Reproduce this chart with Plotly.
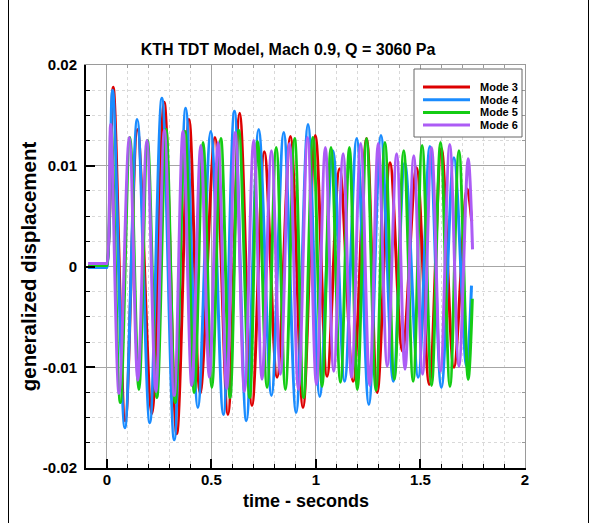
import plotly.graph_objects as go

# Generalized displacement time histories: turning points of each mode (time s, value)
mode3_t = [-0.09, -0.004, 0.0, 0.030, 0.088, 0.146, 0.215, 0.274, 0.334, 0.393, 0.446, 0.517, 0.579,
           0.635, 0.694, 0.753, 0.814, 0.878, 0.938, 0.997, 1.053, 1.113, 1.178, 1.242, 1.293,
           1.354, 1.414, 1.481, 1.542, 1.600, 1.660, 1.723, 1.745]
mode3_v = [0.0001, 0.0001, 0.0001, 0.0178, -0.0153, 0.0136, -0.0146, 0.0163, -0.0166, 0.0146, -0.0126,
           0.0128, -0.0147, 0.0152, -0.0138, 0.0114, -0.0110, 0.0129, -0.0140, 0.0130, -0.0109,
           0.0097, -0.0114, 0.0127, -0.0125, 0.0103, -0.0084, 0.0098, -0.0117, 0.0117, -0.0100,
           0.0077, 0.0045]

mode4_t = [-0.09, -0.004, 0.0, 0.027, 0.086, 0.145, 0.205, 0.263, 0.322, 0.377, 0.435, 0.497, 0.557,
           0.610, 0.667, 0.726, 0.787, 0.846, 0.905, 0.962, 1.018, 1.081, 1.137, 1.195, 1.253,
           1.311, 1.370, 1.425, 1.489, 1.545, 1.600, 1.660, 1.720, 1.744]
mode4_v = [-0.0001, -0.0001, -0.0001, 0.0175, -0.0160, 0.0146, -0.0155, 0.0167, -0.0172, 0.0157, -0.0140,
           0.0134, -0.0147, 0.0154, -0.0153, 0.0136, -0.0128, 0.0133, -0.0145, 0.0141, -0.0129,
           0.0115, -0.0114, 0.0127, -0.0137, 0.0130, -0.0114, 0.0103, -0.0110, 0.0119, -0.0120,
           0.0108, -0.0099, -0.0019]

mode5_t = [-0.09, -0.004, 0.0, 0.020, 0.064, 0.110, 0.153, 0.194, 0.239, 0.283, 0.327, 0.374, 0.418,
           0.460, 0.502, 0.545, 0.589, 0.631, 0.683, 0.721, 0.766, 0.810, 0.854, 0.898, 0.941,
           0.986, 1.029, 1.072, 1.117, 1.160, 1.198, 1.242, 1.287, 1.330, 1.375, 1.420, 1.465,
           1.508, 1.553, 1.596, 1.641, 1.684, 1.728, 1.748]
mode5_v = [0.0001, 0.0001, 0.0001, 0.0138, -0.0135, 0.0128, -0.0122, 0.0125, -0.0130, 0.0136, -0.0135,
           0.0134, -0.0125, 0.0123, -0.0120, 0.0127, -0.0130, 0.0135, -0.0130, 0.0124, -0.0120,
           0.0118, -0.0122, 0.0127, -0.0130, 0.0128, -0.0119, 0.0118, -0.0115, 0.0118, -0.0122,
           0.0127, -0.0123, 0.0123, -0.0112, 0.0115, -0.0114, 0.0120, -0.0118, 0.0123, -0.0119,
           0.0115, -0.0112, -0.0032]

mode6_t = [-0.09, -0.004, 0.0, 0.018, 0.058, 0.107, 0.148, 0.191, 0.234, 0.275, 0.322, 0.364, 0.406,
           0.449, 0.490, 0.532, 0.573, 0.614, 0.658, 0.702, 0.742, 0.787, 0.830, 0.873, 0.916,
           0.960, 1.002, 1.045, 1.085, 1.130, 1.170, 1.214, 1.257, 1.298, 1.341, 1.386, 1.426,
           1.468, 1.510, 1.553, 1.596, 1.640, 1.684, 1.728, 1.749]
mode6_v = [0.0003, 0.0003, 0.0003, 0.0141, -0.0126, 0.0128, -0.0113, 0.0125, -0.0124, 0.0135, -0.0128,
           0.0134, -0.0118, 0.0120, -0.0110, 0.0123, -0.0121, 0.0133, -0.0124, 0.0125, -0.0112,
           0.0115, -0.0107, 0.0122, -0.0122, 0.0128, -0.0117, 0.0118, -0.0104, 0.0112, -0.0110,
           0.0122, -0.0118, 0.0122, -0.0099, 0.0112, -0.0102, 0.0110, -0.0107, 0.0118, -0.0104,
           0.0121, -0.0099, 0.0107, 0.0017]

series_names = ["Mode 3", "Mode 4", "Mode 5", "Mode 6"]
series_colors = ["#dd0000", "#1a8cff", "#14cc14", "#ac5cf5"]

x_tick_vals = [0, 0.5, 1, 1.5, 2]
x_tick_text = ["0", "0.5", "1", "1.5", "2"]
y_tick_vals = [-0.02, -0.01, 0, 0.01, 0.02]
y_tick_text = ["-0.02", "-0.01", "0", "0.01", "0.02"]

W, H = 596, 523
PL, PR, PT, PB = 86, 525, 65, 468   # plot area edges in pixels

FONT = "Liberation Sans, Arial, Helvetica, sans-serif"


def fx(px):
    return (px - PL) / (PR - PL)


def fy(py):
    return (PB - py) / (PB - PT)


fig = go.Figure()
series = [(mode3_t, mode3_v), (mode4_t, mode4_v), (mode5_t, mode5_v), (mode6_t, mode6_v)]
for (t, v), name, color in zip(series, series_names, series_colors):
    fig.add_trace(go.Scatter(
        x=t, y=v, mode="lines", name=name, showlegend=False,
        line=dict(color=color, width=3, shape="spline", smoothing=1.0),
        hoverinfo="x+y+name",
    ))

axis_common = dict(
    showline=True, linecolor="black", linewidth=2, mirror=False,
    ticks="inside", tickcolor="black", tickwidth=2, ticklen=9,
    showgrid=True, gridcolor="#a6a6a6", gridwidth=1, zeroline=False,
    tickfont=dict(family=FONT, size=15, color="black", weight="bold"),
)

fig.update_layout(
    width=W, height=H,
    margin=dict(l=PL, r=W - PR, t=PT, b=H - PB, pad=0),
    paper_bgcolor="white", plot_bgcolor="white",
    title=dict(text="KTH TDT Model, Mach 0.9, Q = 3060 Pa",
               x=fx(288), xref="paper", xanchor="center",
               y=1 - 49 / H, yref="container", yanchor="middle",
               font=dict(family=FONT, size=16, color="black", weight="bold")),
    xaxis=dict(
        range=[-0.1, 2], tickvals=x_tick_vals, ticktext=x_tick_text,
        minor=dict(dtick=0.1, tick0=0, ticks="inside", ticklen=4, tickcolor="black",
                   tickwidth=1, showgrid=True, gridcolor="#d9d9d9", griddash="dot", gridwidth=1),
        ticklabelstandoff=-3,
        **axis_common,
    ),
    yaxis=dict(
        range=[-0.02, 0.02], tickvals=y_tick_vals, ticktext=y_tick_text,
        minor=dict(dtick=0.0025, tick0=0, ticks="inside", ticklen=4, tickcolor="black",
                   tickwidth=1, showgrid=True, gridcolor="#d9d9d9", griddash="dot", gridwidth=1),
        title=dict(text="generalized displacement", standoff=1,
                   font=dict(family=FONT, size=20.5, color="black", weight="bold")),
        ticklabelstandoff=4,
        **axis_common,
    ),
    xaxis2=dict(
        overlaying="x", side="top", matches="x", range=[-0.1, 2],
        showline=True, linecolor="#9a9a9a", linewidth=1,
        ticks="inside", tickcolor="#9a9a9a", ticklen=5, tickvals=x_tick_vals,
        minor=dict(dtick=0.1, tick0=0, ticks="inside", ticklen=3, tickcolor="#9a9a9a"),
        showticklabels=False, showgrid=False, zeroline=False,
    ),
    yaxis2=dict(
        overlaying="y", side="right", matches="y", range=[-0.02, 0.02],
        showline=True, linecolor="#9a9a9a", linewidth=1,
        ticks="inside", tickcolor="#9a9a9a", ticklen=5, tickvals=y_tick_vals,
        minor=dict(dtick=0.0025, tick0=0, ticks="inside", ticklen=3, tickcolor="#9a9a9a"),
        showticklabels=False, showgrid=False, zeroline=False,
    ),
)

# anchor trace for the mirrored frame axes
fig.add_trace(go.Scatter(x=[None], y=[None], xaxis="x2", yaxis="y2",
                         showlegend=False, hoverinfo="skip"))

annotations = [
    # horizontal axis title
    dict(text="time - seconds", xref="paper", yref="paper",
         x=fx(306), y=fy(501), xanchor="center", yanchor="middle", showarrow=False,
         font=dict(family=FONT, size=18, color="black", weight="bold")),
]

# key box with line samples
shapes = [
    dict(type="rect", xref="paper", yref="paper",
         x0=fx(414), x1=fx(522), y0=fy(137), y1=fy(69),
         line=dict(color="#666666", width=1), fillcolor="white", layer="above"),
]
row_y = [87, 99.7, 112.4, 125.1]
for name, color, ry in zip(series_names, series_colors, row_y):
    shapes.append(dict(type="line", xref="paper", yref="paper",
                       x0=fx(423), x1=fx(470), y0=fy(ry), y1=fy(ry),
                       line=dict(color=color, width=3), layer="above"))
    annotations.append(dict(text=name, xref="paper", yref="paper",
                            x=fx(478), y=fy(ry), xanchor="left", yanchor="middle",
                            showarrow=False,
                            font=dict(family=FONT, size=11, color="black", weight="bold")))

# outer frame of the page
shapes.append(dict(type="line", xref="paper", yref="paper",
                   x0=fx(8.5), x1=fx(8.5), y0=fy(0), y1=fy(H),
                   line=dict(color="black", width=1)))
shapes.append(dict(type="line", xref="paper", yref="paper",
                   x0=fx(588.5), x1=fx(588.5), y0=fy(0), y1=fy(H),
                   line=dict(color="black", width=1)))

fig.update_layout(shapes=shapes, annotations=annotations)

fig.write_html("out.html")
